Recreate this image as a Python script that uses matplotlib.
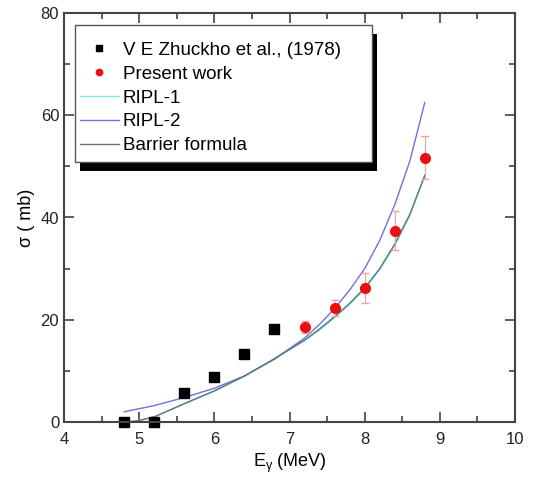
import matplotlib
matplotlib.use("Agg")
from matplotlib import pyplot as plt
from matplotlib.patches import Rectangle

plt.rcParams['font.family'] = ['Liberation Sans', 'DejaVu Sans']

# V E Zhuckho et al. (1978)
zh_e = [4.8, 5.2, 5.6, 6.0, 6.4, 6.8]
zh_s = [0.0, 0.0, 5.7, 8.8, 13.3, 18.2]

# present work
pw_e = [7.2, 7.6, 8.0, 8.4, 8.8]
pw_s = [18.6, 22.3, 26.2, 37.4, 51.7]
pw_err = [1.2, 1.6, 3.0, 3.8, 4.2]

# model curves
ripl2_e = [4.8, 5.2, 5.6, 6.0, 6.4, 6.8, 7.2, 7.4, 7.6, 7.8, 8.0, 8.2, 8.4, 8.6, 8.8]
ripl2_s = [2.0, 3.2, 4.8, 6.6, 9.0, 12.3, 16.4, 19.1, 22.2, 25.8, 30.0, 35.5, 42.5, 51.0, 62.5]
barrier_e = [4.85, 5.0, 5.2, 5.6, 6.0, 6.4, 6.8, 7.2, 7.4, 7.6, 7.8, 8.0, 8.2, 8.4, 8.6, 8.8]
barrier_s = [0.0, 0.3, 1.0, 3.6, 6.1, 9.0, 12.4, 16.0, 18.2, 20.6, 23.2, 26.2, 30.0, 34.8, 40.6, 48.3]
ripl1_e = barrier_e
ripl1_s = [0.0, 0.3, 1.0, 3.5, 6.0, 8.9, 12.3, 15.9, 18.0, 20.4, 23.0, 26.0, 29.8, 34.5, 40.3, 48.0]

fig = plt.figure(figsize=(5.51, 4.84), dpi=100)
ax = fig.add_axes([64/551, 62/484, 451/551, 409/484])

ax.plot(ripl1_e, ripl1_s, color='#7fe8e8', lw=1, label='RIPL-1')
ax.plot(ripl2_e, ripl2_s, color='#7070e0', lw=1, label='RIPL-2')
ax.plot(barrier_e, barrier_s, color='#607870', lw=1, label='Barrier formula')
ax.errorbar(pw_e, pw_s, yerr=pw_err, fmt='none', ecolor='#f4a0a0', elinewidth=0.8, capsize=3)
ax.plot(zh_e, zh_s, 's', color='black', ms=6.5, ls='none', label='V E Zhuckho et al., (1978)', clip_on=False)
ax.plot(pw_e, pw_s, 'o', color='#e81010', ms=7, ls='none', label='Present work')

# legend box with solid black drop shadow
x0, x1 = 0.0244, 0.683
y0, y1 = 0.6357, 0.9707
ax.add_patch(Rectangle((x0 + 0.011, y0 - 0.022), x1 - x0, y1 - y0,
                       transform=ax.transAxes, facecolor='black', edgecolor='none', zorder=4))
ax.add_patch(Rectangle((x0, y0), x1 - x0, y1 - y0, transform=ax.transAxes,
                       facecolor='white', edgecolor='#555555', lw=1.0, zorder=4.5))

handles, labels = ax.get_legend_handles_labels()
order = [3, 4, 0, 1, 2]
leg = ax.legend([handles[i] for i in order], [labels[i] for i in order],
                loc='upper left', bbox_to_anchor=(0.035, 0.93), fontsize=13.5,
                frameon=False, handlelength=2.1, handletextpad=0.2, borderpad=0,
                labelspacing=0.36, markerscale=0.65, borderaxespad=0)
leg.set_zorder(5)

ax.set_xlim(4, 10)
ax.set_ylim(0, 80)
ax.set_xticks([4, 5, 6, 7, 8, 9, 10])
ax.set_xticks([4.5, 5.5, 6.5, 7.5, 8.5, 9.5], minor=True)
ax.set_yticks([0, 20, 40, 60, 80])
ax.set_yticks([10, 30, 50, 70], minor=True)
ax.tick_params(which='both', direction='in', top=True, right=True, labelsize=12,
               colors='#444444', labelcolor='#222222')
ax.tick_params(which='major', length=7, width=1.2)
ax.tick_params(which='minor', length=4, width=1.2)
ax.tick_params(axis='x', pad=7)
for s in ax.spines.values():
    s.set_linewidth(1.5)
    s.set_color('#444444')

ax.set_xlabel(r'E$_{\mathregular{\gamma}}$ (MeV)', fontsize=13)
ax.set_ylabel('\u03c3 ( mb)', fontsize=13)

fig.savefig('out.png', dpi=100)
